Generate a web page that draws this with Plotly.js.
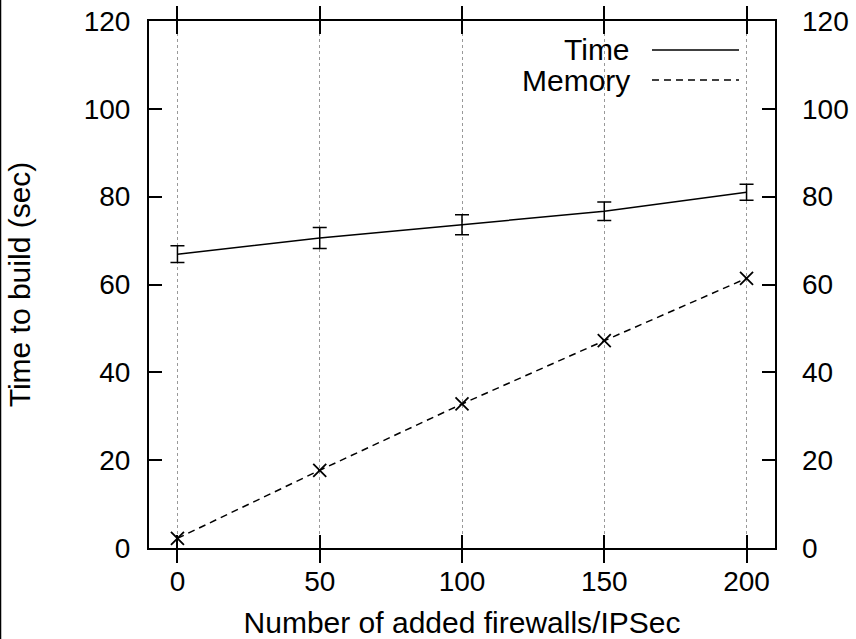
<!DOCTYPE html>
<html>
<head>
<meta charset="utf-8">
<script src="https://cdn.plot.ly/plotly-3.0.1.min.js"></script>
<style>html,body{margin:0;padding:0;background:#fff;}#chart{width:856px;height:639px;}</style>
</head>
<body>
<div id="chart"></div>
<script>
const xValues = [0, 50, 100, 150, 200];
const timeValues = [66.9, 70.6, 73.6, 76.7, 81.0];
const timeErrors = [1.9, 2.4, 2.3, 2.1, 1.8];
const memoryValues = [2.2, 17.7, 32.8, 47.2, 61.4];
const xTicks = [0, 50, 100, 150, 200];
const yTicks = [0, 20, 40, 60, 80, 100, 120];
const seriesNames = ['Time', 'Memory'];

const FONT = 'Liberation Sans, Arial, Helvetica, sans-serif';
const fs = 28;
const fsT = 30;

const traces = [
  {
    x: xValues, y: timeValues, name: seriesNames[0], type: 'scatter', mode: 'lines',
    line: {color: '#000', width: 1.5},
    error_y: {type: 'data', array: timeErrors, visible: true, color: '#000', thickness: 1.5, width: 7},
    xaxis: 'x', yaxis: 'y', showlegend: false
  },
  {
    x: xValues, y: memoryValues, name: seriesNames[1], type: 'scatter', mode: 'lines+markers',
    line: {color: '#000', width: 1.5, dash: '7px,5px'},
    marker: {symbol: 'x-thin', size: 13, line: {color: '#000', width: 1.8}, color: '#000'},
    xaxis: 'x', yaxis: 'y2', showlegend: false
  }
];

const axisCommon = {
  showline: true, linecolor: '#000', linewidth: 2,
  ticks: 'inside', ticklen: 13, tickwidth: 2, tickcolor: '#000',
  tickfont: {family: FONT, size: fs, color: '#000'},
  zeroline: false
};

const layout = {
  width: 856, height: 639,
  margin: {l: 149, r: 81, t: 21, b: 91},
  paper_bgcolor: '#fff', plot_bgcolor: '#fff',
  showlegend: false,
  xaxis: Object.assign({}, axisCommon, {
    range: [-10, 210], tickvals: xTicks, ticktext: xTicks.map(String),
    mirror: 'allticks',
    showgrid: true, gridcolor: '#999', gridwidth: 1, griddash: 'dot',
    ticklabelstandoff: 7,
    title: {text: 'Number of added firewalls/IPSec', font: {family: FONT, size: fsT, color: '#000'}, standoff: 18}
  }),
  yaxis: Object.assign({}, axisCommon, {
    range: [0, 120], tickvals: yTicks, ticktext: yTicks.map(String),
    mirror: 'allticks', showgrid: false,
    ticklabelstandoff: 11,
    title: {text: 'Time to build (sec)', font: {family: FONT, size: fsT, color: '#000'}, standoff: 44}
  }),
  yaxis2: {
    overlaying: 'y', side: 'right', range: [0, 120],
    tickvals: yTicks, ticktext: yTicks.map(String),
    showline: false, ticks: '', showgrid: false, zeroline: false,
    ticklabelstandoff: 26,
    tickfont: {family: FONT, size: fs, color: '#000'}
  },
  annotations: [
    {xref: 'paper', yref: 'paper', x: 0.7716, y: 0.945, xanchor: 'right', yanchor: 'middle',
     text: seriesNames[0], showarrow: false, font: {family: FONT, size: fsT, color: '#000'}},
    {xref: 'paper', yref: 'paper', x: 0.7716, y: 0.888, xanchor: 'right', yanchor: 'middle',
     text: seriesNames[1], showarrow: false, font: {family: FONT, size: fsT, color: '#000'}}
  ],
  shapes: [
    {type: 'line', xref: 'paper', yref: 'paper', x0: 0.8035, x1: 0.9425, y0: 0.945, y1: 0.945,
     line: {color: '#000', width: 1.5}},
    {type: 'line', xref: 'paper', yref: 'paper', x0: 0.8035, x1: 0.9425, y0: 0.888, y1: 0.888,
     line: {color: '#000', width: 1.5, dash: '7px,5px'}},
    {type: 'line', xref: 'paper', yref: 'paper', x0: -0.2372, x1: -0.2372, y0: -0.18, y1: 1.05,
     line: {color: '#000', width: 1.5}}
  ]
};

Plotly.newPlot('chart', traces, layout, {displayModeBar: false, staticPlot: true});
</script>
</body>
</html>
